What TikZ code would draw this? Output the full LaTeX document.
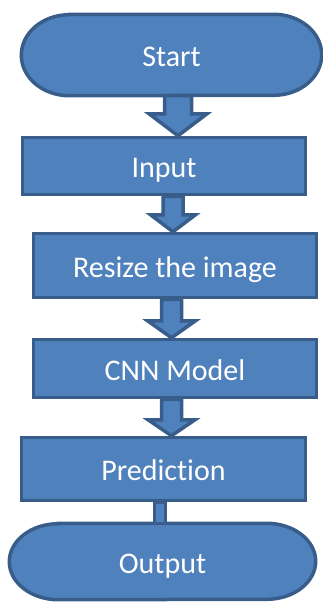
\documentclass[tikz,border=0pt]{standalone}
\usepackage{fontspec}
\setmainfont[Ligatures=NoCommon]{Carlito}
\usetikzlibrary{calc}
\pgfdeclarelayer{background}
\pgfsetlayers{background,main}
\definecolor{boxfill}{HTML}{4F81BD}
\definecolor{boxline}{HTML}{385D8A}
\tikzset{
  labeltext/.style={text=white, font=\fontsize{30}{33}\selectfont, inner sep=0pt,
    text height=23pt, text depth=0pt},
  flowbox/.style={labeltext, draw=boxline, fill=boxfill, line width=3.5pt},
  termtext/.style={labeltext},
  termshape/.style={draw=boxline, fill=boxfill, line width=3.5pt},
  barrow/.style={draw=boxline, fill=boxfill, line width=3.5pt, line join=miter},
}
% #1 source node, #2 target node, #3 x offset from source, #4 shaft half width, #5 head half width, #6 head length
\newcommand\blockdown[6]{%
  \draw[barrow] let \p1=(#1.south), \p2=(#2.north) in
    ({\x1+#3pt-#4pt},\y1) -- ({\x1+#3pt-#4pt},{\y2+#6pt}) -- ({\x1+#3pt-#5pt},{\y2+#6pt})
    -- ({\x1+#3pt},\y2) -- ({\x1+#3pt+#5pt},{\y2+#6pt}) -- ({\x1+#3pt+#4pt},{\y2+#6pt})
    -- ({\x1+#3pt+#4pt},\y1) -- cycle;}
% terminator outline behind a node: #1 node, #2 x radius, #3 y radius
\newcommand\termoutline[3]{%
  \begin{pgfonlayer}{background}
  \draw[termshape] ($(#1.north west)+(#2,0)$) -- ($(#1.north east)+(-#2,0)$)
    arc[start angle=90, end angle=-90, x radius=#2pt, y radius=#3pt]
    -- ($(#1.south west)+(#2,0)$)
    arc[start angle=270, end angle=90, x radius=#2pt, y radius=#3pt] -- cycle;
  \end{pgfonlayer}}
\begin{document}
\begin{tikzpicture}[x=1pt, y=-1pt]
\useasboundingbox (0,0) rectangle (323,602);
\node[termtext, minimum width=300pt, minimum height=81pt] (start) at (171.5,55) {Start};
\termoutline{start}{48}{40.5}
\node[flowbox, minimum width=283pt, minimum height=57pt] (input) at (164,166) {Input};
\node[flowbox, minimum width=283pt, minimum height=64pt] (resize) at (175,265.5) {Resize the image};
\node[flowbox, minimum width=283pt, minimum height=58pt] (cnn) at (175,368.5) {CNN Model};
\node[flowbox, minimum width=284pt, minimum height=63pt] (pred) at (163.5,469) {Prediction};
\node[termtext, minimum width=306pt, minimum height=76pt] (output) at (162.5,561.5) {Output};
\termoutline{output}{49}{38}
\blockdown{start}{input}{6.5}{13.5}{29}{22}
\blockdown{input}{resize}{9}{10}{22.5}{17}
\blockdown{resize}{cnn}{-3.5}{10}{24}{17}
\blockdown{cnn}{pred}{-3.5}{10}{23.5}{16}
\draw[barrow] let \p1=(pred.south), \p2=(output.north) in
  ({\x1-3.5pt-5.5pt},\y1) rectangle ({\x1-3.5pt+5.5pt},\y2);
\end{tikzpicture}
\end{document}
